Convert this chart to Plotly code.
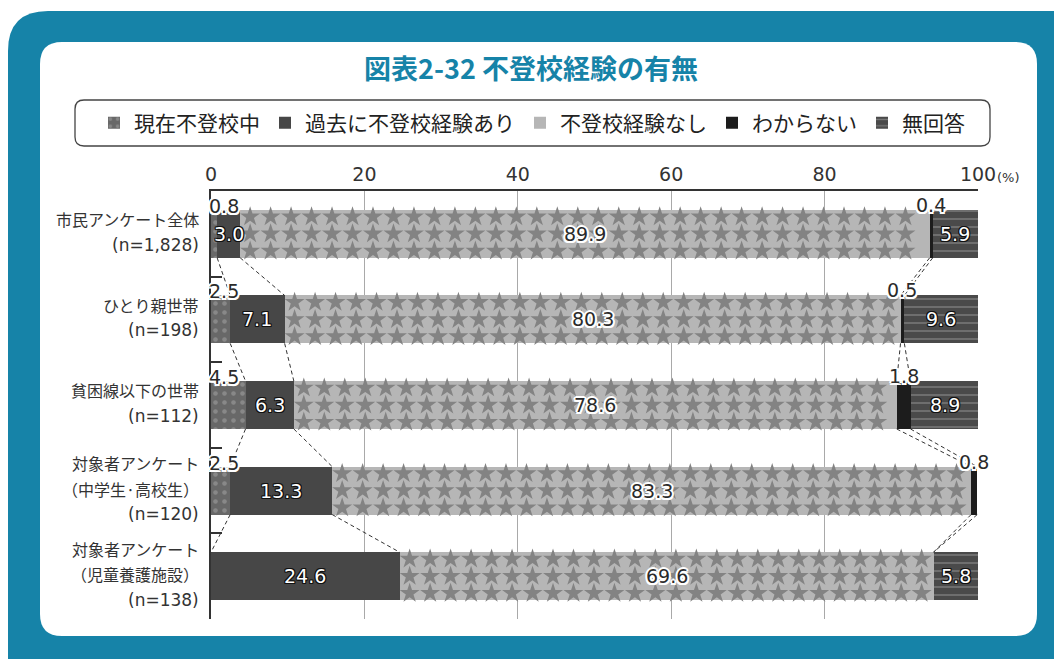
import plotly.graph_objects as go
import numpy as np

# ---------------- data ----------------
categories = [
    "市民アンケート全体<br>(n=1,828)",
    "ひとり親世帯<br>(n=198)",
    "貧困線以下の世帯<br>(n=112)",
    "対象者アンケート<br>（中学生·高校生）<br>(n=120)",
    "対象者アンケート<br>（児童養護施設）<br>(n=138)",
]
series_names = ["現在不登校中", "過去に不登校経験あり", "不登校経験なし", "わからない", "無回答"]
s_current = [0.8, 2.5, 4.5, 2.5, 0.0]
s_past = [3.0, 7.1, 6.3, 13.3, 24.6]
s_none = [89.9, 80.3, 78.6, 83.3, 69.6]
s_unknown = [0.4, 0.5, 1.8, 0.8, 0.0]
s_noanswer = [5.9, 9.6, 8.9, 0.0, 5.8]
x_ticks = [0, 20, 40, 60, 80, 100]

series_values = [s_current, s_past, s_none, s_unknown, s_noanswer]

# ---------------- styling ----------------
FONT = "Noto Sans CJK JP"
NUMFONT = "DejaVu Sans"
TEAL = "#1683a8"
BAR_W = 0.56
ypos = list(range(len(categories)))

# pixel helpers for paper coordinates (plot area: x 211..978, y 191..619)
L, R, T, B = 211, 978, 191, 619
W, H = 1054, 659
def px(x):
    return (x - L) / (R - L)
def py(y):
    return (B - y) / (B - T)

def rounded_path(x0, y0, x1, y1, r):
    pts = []
    pts.append(f"M {px(x0 + r)} {py(y0)}")
    pts.append(f"L {px(x1 - r)} {py(y0)}")
    pts.append(f"Q {px(x1)} {py(y0)} {px(x1)} {py(y0 + r)}")
    pts.append(f"L {px(x1)} {py(y1 - r)}")
    pts.append(f"Q {px(x1)} {py(y1)} {px(x1 - r)} {py(y1)}")
    pts.append(f"L {px(x0 + r)} {py(y1)}")
    pts.append(f"Q {px(x0)} {py(y1)} {px(x0)} {py(y1 - r)}")
    pts.append(f"L {px(x0)} {py(y0 + r)}")
    pts.append(f"Q {px(x0)} {py(y0)} {px(x0 + r)} {py(y0)} Z")
    return " ".join(pts)

fig = go.Figure()

bar_styles = [
    dict(color="#686868", pattern=dict(shape=".", fgcolor="#a8a8a8", bgcolor="#686868", size=9, solidity=0.2)),
    dict(color="#474747"),
    dict(color="#b6b6b6"),
    dict(color="#1c1c1c"),
    dict(color="#4a4a4a", pattern=dict(shape="-", fgcolor="#a5a5a5", bgcolor="#4a4a4a", size=8, solidity=0.2)),
]

for name, vals, st in zip(series_names, series_values, bar_styles):
    fig.add_trace(go.Bar(
        y=ypos, x=vals, name=name, orientation="h", width=BAR_W,
        marker=dict(line=dict(width=0), **st),
        hoverinfo="skip",
    ))

# cumulative boundaries
cum = np.cumsum(np.array(series_values).T, axis=1)  # rows x series
starts = np.hstack([np.zeros((len(categories), 1)), cum[:, :-1]])

# star pattern overlay on the "不登校経験なし" segments
sx, sy = [], []
step = 2.67
for i in ypos:
    a, b = starts[i][2], cum[i][2]
    xs = np.arange(a + 1.3, b - 0.9, step)
    for off in (-0.2, 0.0, 0.2):
        sx.extend(xs.tolist())
        sy.extend([i + off] * len(xs))
fig.add_trace(go.Scatter(
    x=sx, y=sy, mode="markers", showlegend=False, hoverinfo="skip",
    marker=dict(symbol="star", size=15, color="#838383", line=dict(width=0)),
))

# dashed connector lines between rows
cx, cy = [], []
for i in range(len(categories) - 1):
    for k in range(4):
        cx += [cum[i][k], cum[i + 1][k], None]
        cy += [i + BAR_W / 2, i + 1 - BAR_W / 2, None]
fig.add_trace(go.Scatter(
    x=cx, y=cy, mode="lines", showlegend=False, hoverinfo="skip",
    line=dict(color="#333333", width=1, dash="4px,3px"),
))

# ---------------- annotations ----------------
annotations = []
halo_w = ", ".join(f"{dx}px {dy}px 0 #ffffff" for dx, dy in
                   [(-2, 0), (2, 0), (0, -2), (0, 2), (-1.5, -1.5), (1.5, -1.5), (-1.5, 1.5), (1.5, 1.5)])
halo_d = ", ".join(f"{dx}px {dy}px 0 #111111" for dx, dy in
                   [(-1, 0), (1, 0), (0, -1), (0, 1), (-1, -1), (1, -1), (-1, 1), (1, 1)])

for i in ypos:
    for k in range(5):
        v = series_values[k][i]
        if v <= 0:
            continue
        mid = starts[i][k] + v / 2
        txt = f"{v:.1f}"
        if k == 0:
            annotations.append(dict(x=starts[i][k], y=i - BAR_W / 2, xref="x", yref="y", text=txt,
                                    showarrow=False, xanchor="left", xshift=-4, yshift=4,
                                    font=dict(family=NUMFONT, size=19, color="#2a2a2a", shadow=halo_w)))
        elif k == 3:
            annotations.append(dict(x=mid, y=i - BAR_W / 2, xref="x", yref="y", text=txt,
                                    showarrow=False, yshift=5,
                                    font=dict(family=NUMFONT, size=19, color="#2a2a2a", shadow=halo_w)))
        else:
            if k == 2:
                font = dict(family=NUMFONT, size=19, color="#2a2a2a", shadow=halo_w)
            else:
                font = dict(family=NUMFONT, size=19, color="#ffffff", shadow=halo_d)
            annotations.append(dict(x=mid, y=i, xref="x", yref="y", text=txt,
                                    showarrow=False, font=font))

# category labels (line by line, right aligned)
for i, lab in enumerate(categories):
    lines = lab.split("<br>")
    n = len(lines)
    for j, ln in enumerate(lines):
        is_n = ln.startswith("(n=")
        annotations.append(dict(x=px(201), y=i, xref="paper", yref="y", text=ln,
                                showarrow=False, xanchor="right", yanchor="middle",
                                yshift=-(j - (n - 1) / 2) * 25.5 + 2,
                                font=dict(family=NUMFONT if is_n else FONT,
                                          size=17 if is_n else 16, color="#333333")))

# (%) unit
annotations.append(dict(x=px(995), y=py(177), xref="paper", yref="paper", text="(%)",
                        showarrow=False, xanchor="left", yanchor="middle",
                        font=dict(family=NUMFONT, size=13, color="#333333")))

shapes = [
    dict(type="path", xref="paper", yref="paper", layer="below",
         path=rounded_path(8, 11, 1090, 700, 40), fillcolor=TEAL, line=dict(width=0)),
    dict(type="path", xref="paper", yref="paper", layer="below",
         path=rounded_path(40, 42, 1037, 636, 22), fillcolor="#ffffff", line=dict(width=0)),
    dict(type="path", xref="paper", yref="paper", layer="below",
         path=rounded_path(75, 100, 990, 146, 9), fillcolor="#ffffff",
         line=dict(color="#444444", width=1.3)),
]

fig.update_layout(
    width=W, height=H,
    margin=dict(l=L, r=W - R, t=T, b=H - B, pad=0),
    paper_bgcolor="#ffffff",
    plot_bgcolor="rgba(0,0,0,0)",
    barmode="stack",
    showlegend=True,
    title=dict(text="<b>図表2-32 不登校経験の有無</b>", x=531 / W, y=1 - 70 / H,
               xref="container", yref="container", xanchor="center", yanchor="middle",
               font=dict(family=FONT, size=27, color=TEAL)),
    legend=dict(orientation="h", x=px(94), y=py(123), xref="paper", yref="paper",
                xanchor="left", yanchor="middle", bgcolor="rgba(0,0,0,0)",
                font=dict(family=FONT, size=21, color="#222222"),
                traceorder="normal", itemclick=False, itemdoubleclick=False),
    xaxis=dict(range=[0, 100], side="top", tickvals=x_ticks,
               ticktext=[str(t) for t in x_ticks],
               showgrid=True, gridcolor="#a9a9a9", gridwidth=1,
               showline=True, linecolor="#333333", linewidth=2,
               ticks="", zeroline=False,
               tickfont=dict(family=NUMFONT, size=19, color="#333333"), fixedrange=True),
    yaxis=dict(range=[4.5, -0.5], tickmode="array", tickvals=[0.5, 1.5, 2.5, 3.5],
               showticklabels=False, ticks="inside", ticklen=11, tickwidth=1.5, tickcolor="#333333",
               showgrid=False, zeroline=False,
               showline=True, linecolor="#333333", linewidth=2, fixedrange=True),
    shapes=shapes,
    annotations=annotations,
)

fig.write_html("out.html", config={"displayModeBar": False},
               post_script="document.body.style.margin='0';document.body.style.overflow='hidden';")
